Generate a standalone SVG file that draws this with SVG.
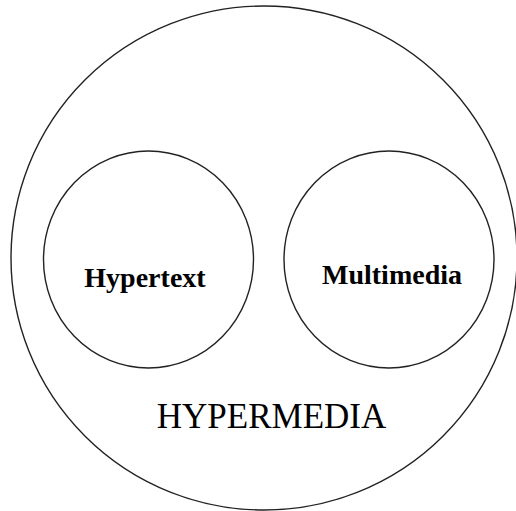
<svg xmlns="http://www.w3.org/2000/svg" width="516" height="511" viewBox="0 0 516 511">
<style>
.c{fill:none;stroke:#222;stroke-width:1.4}
.lb{font-family:"Liberation Serif","Times New Roman",serif;font-weight:bold;font-size:28px;text-anchor:middle;fill:#000}
.big{font-family:"Liberation Serif","Times New Roman",serif;font-size:35px;text-anchor:middle;fill:#000}
</style>
<rect width="516" height="511" fill="#fff"/>
<g id="hypermedia">
<ellipse class="c" cx="264" cy="258" rx="253" ry="252"/>
<text class="big" x="271.5" y="428">HYPERMEDIA</text>
</g>
<g id="hypertext">
<ellipse class="c" cx="148.5" cy="259.5" rx="105" ry="108.5"/>
<text class="lb" x="145" y="287">Hypertext</text>
</g>
<g id="multimedia">
<ellipse class="c" cx="389" cy="259.5" rx="105" ry="108.5"/>
<text class="lb" x="392" y="284">Multimedia</text>
</g>
<g id="connectors"></g>
</svg>
